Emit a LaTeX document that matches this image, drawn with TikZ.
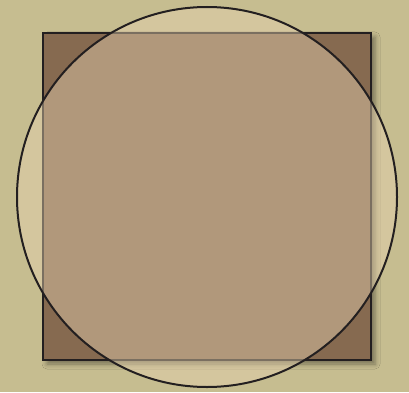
\documentclass[tikz,border=0pt]{standalone}
\usetikzlibrary{shadows.blur}
\definecolor{bgc}{HTML}{C6BD90}
\definecolor{sqc}{HTML}{866A50}
\definecolor{cic}{HTML}{E6D2B0}
\definecolor{edge}{HTML}{231F20}
\begin{document}
\begin{tikzpicture}[x=1pt,y=1pt,
  squarebox/.style={draw=edge,line width=2pt,fill=sqc,blur shadow={shadow xshift=4pt,shadow yshift=-4pt,shadow blur radius=5pt,shadow opacity=40}},
  roundbox/.style={draw=edge,line width=2pt,fill=cic,fill opacity=0.45}]
  \fill[bgc] (0,0) rectangle (409,392);
  \useasboundingbox (0,0) rectangle (409,392);
  \node[squarebox,minimum width=328pt,minimum height=327pt,inner sep=0pt] (sq) at (207,195.5) {};
  \node[roundbox,circle,minimum size=380pt,inner sep=0pt] (ci) at (207,195) {};
\end{tikzpicture}
\end{document}
